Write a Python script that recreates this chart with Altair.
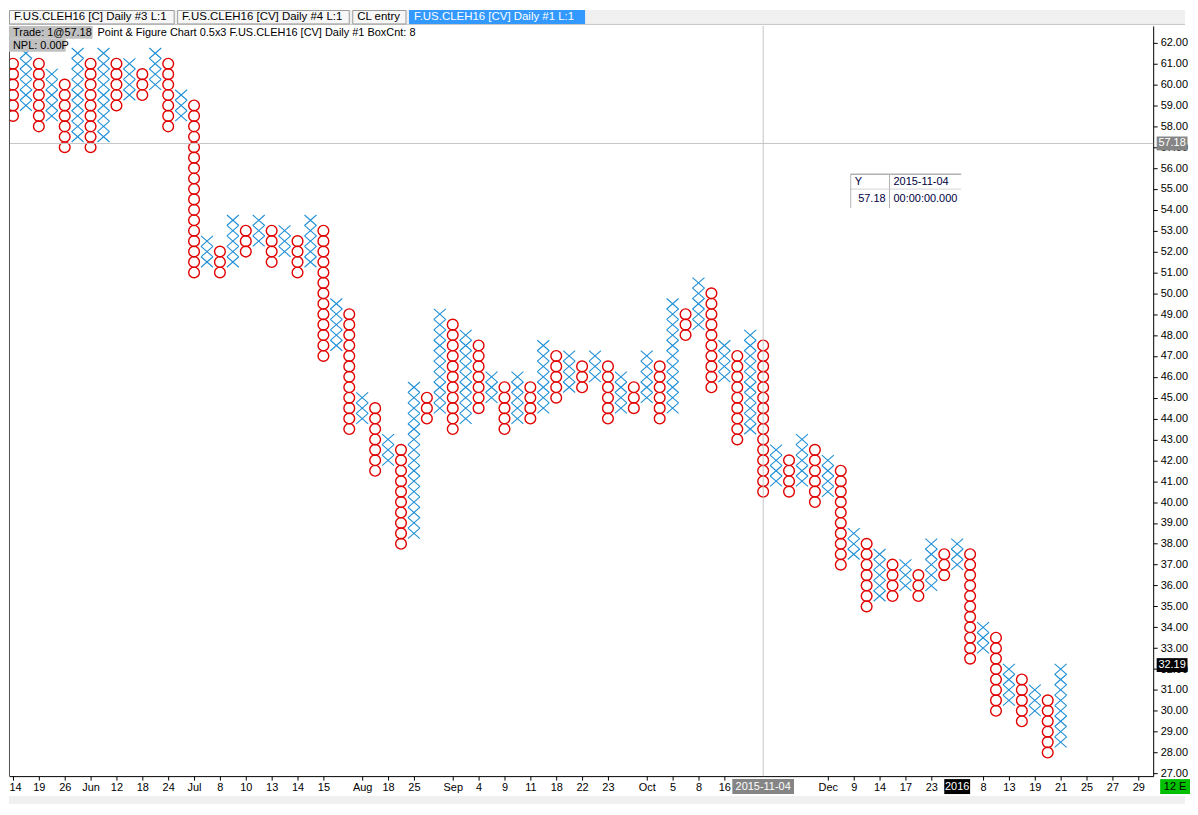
import json
import pandas as pd
import altair as alt

FONT = "Liberation Sans"

# ---- Point & Figure columns (0.5 box, 3 reversal) ----
col_kind = ["O", "X"] * 41
col_low = [58.5, 59.0, 58.0, 58.5, 57.0, 57.5, 57.0, 57.5, 59.0, 59.5,
           59.5, 60.0, 58.0, 58.5, 51.0, 51.5, 51.0, 51.5, 52.0, 52.5,
           51.5, 52.0, 51.0, 51.5, 47.0, 47.5, 43.5, 44.0, 41.5, 42.0,
           38.0, 38.5, 44.0, 44.5, 43.5, 44.0, 44.5, 45.0, 43.5, 44.0,
           44.0, 44.5, 45.0, 45.5, 45.5, 46.0, 44.0, 44.5, 44.5, 45.0,
           44.0, 44.5, 48.0, 48.5, 45.5, 46.0, 43.0, 43.5, 40.5, 41.0,
           40.5, 41.0, 40.0, 40.5, 37.0, 37.5, 35.0, 35.5, 35.5, 36.0,
           35.5, 36.0, 36.5, 37.0, 32.5, 33.0, 30.0, 30.5, 29.5, 30.0,
           28.0, 28.5]
col_high = [61.0, 61.5, 61.0, 60.5, 60.0, 61.5, 61.0, 61.5, 61.0, 61.0,
            60.5, 61.5, 61.0, 59.5, 59.0, 52.5, 52.0, 53.5, 53.0, 53.5,
            53.0, 53.0, 52.5, 53.5, 53.0, 49.5, 49.0, 45.0, 44.5, 43.0,
            42.5, 45.5, 45.0, 49.0, 48.5, 48.0, 47.5, 46.0, 45.5, 46.0,
            45.5, 47.5, 47.0, 47.0, 46.5, 47.0, 46.5, 46.0, 45.5, 47.0,
            46.5, 49.5, 49.0, 50.5, 50.0, 47.5, 47.0, 48.0, 47.5, 42.5,
            42.0, 43.0, 42.5, 42.0, 41.5, 38.5, 38.0, 37.5, 37.0, 37.0,
            36.5, 38.0, 37.5, 38.0, 37.5, 34.0, 33.5, 32.0, 31.5, 31.0,
            30.5, 32.0]

tick_cols = [0, 2, 4, 6, 8, 10, 12, 14, 16, 18, 20, 22, 24, 27, 29, 31, 34, 36, 38, 40,
             42, 44, 46, 49, 51, 53, 55, 63, 65, 67, 69, 71, 75, 77, 79, 81, 83, 85, 87]
tick_labels = ["14", "19", "26", "Jun", "12", "18", "24", "Jul", "8", "10",
               "13", "14", "15", "Aug", "18", "25", "Sep", "4", "9", "11",
               "18", "22", "23", "Oct", "5", "8", "16", "Dec", "9", "14",
               "17", "23", "8", "13", "19", "21", "25", "27", "29"]
price_ticks = list(range(27, 63))

cursor_col = [58]
cursor_date = ["2015-11-04"]
cursor_price = [57.18]
year_col = [73]
year_label = ["2016"]
last_price = [32.19]

assert len(col_kind) == len(col_low) == len(col_high)

cols_df = pd.DataFrame({"col": list(range(len(col_kind))), "kind": col_kind,
                        "low": col_low, "high": col_high})

W, H = 1150, 754
xscale = alt.Scale(domain=[-0.3077, 88.154], nice=False, zero=False)
yscale = alt.Scale(domain=[26.87, 62.81], nice=False, zero=False)

lab = [""] * 89
for c, t in zip(tick_cols, tick_labels):
    lab[c] = t
label_expr = json.dumps(lab) + "[round(datum.value)]"

x_axis = alt.Axis(values=tick_cols, labelExpr=label_expr, labelOverlap=False,
                  labelFlush=6, labelFlushOffset=4, tickSize=4, labelPadding=1,
                  grid=False, domainColor="black", tickColor="black", title=None)
y_axis = alt.Axis(orient="right", values=price_ticks, format=".2f", labelOverlap=False,
                  tickSize=4, labelPadding=3, grid=False, domainColor="black",
                  tickColor="black", labelFlush=False, title=None)


def X(field):
    return alt.X(field, scale=xscale, axis=x_axis, title=None)


def Y(field):
    return alt.Y(field, scale=yscale, axis=y_axis, title=None)


boxes = (alt.Chart(cols_df)
         .transform_calculate(box="sequence(datum.low, datum.high + 0.25, 0.5)")
         .transform_flatten(["box"]))

XPATH = "M-1,-0.88L1,0.88M-1,0.88L1,-0.88"

o_layer = boxes.transform_filter("datum.kind == 'O'").mark_point(
    shape="circle", size=116, filled=False, color="#e00000", strokeWidth=1.4,
    opacity=1, clip=True
).encode(x=X("col:Q"), y=Y("box:Q"))

x_layer = boxes.transform_filter("datum.kind == 'X'").mark_point(
    shape=XPATH, size=144, filled=False, color="#1e8fd6", strokeWidth=1.1,
    opacity=1, clip=True
).encode(x=X("col:Q"), y=Y("box:Q"))

one = pd.DataFrame({"a": [0]})


def txt(text, x, y, size=11, color="black", align="left", font=FONT):
    return alt.Chart(pd.DataFrame({"t": [text]})).mark_text(
        align=align, baseline="middle", fontSize=size, color=color, font=font
    ).encode(text="t:N", x=alt.value(x), y=alt.value(y))


def rect(x, x2, y, y2, fill, stroke=None):
    kw = dict(fill=fill)
    if stroke:
        kw.update(stroke=stroke, strokeWidth=1)
    return alt.Chart(one).mark_rect(**kw).encode(
        x=alt.value(x), x2=alt.value(x2), y=alt.value(y), y2=alt.value(y2))


def line(x, x2, y, y2, color):
    return alt.Chart(one).mark_rule(color=color, strokeWidth=1).encode(
        x=alt.value(x), x2=alt.value(x2), y=alt.value(y), y2=alt.value(y2))


layers = []

# boxes first so their axes define the chart's axes
layers.append(o_layer)
layers.append(x_layer)

# crosshair
layers.append(alt.Chart(pd.DataFrame({"price": cursor_price})).mark_rule(
    color="#c4c4c4", strokeWidth=1).encode(y=Y("price:Q")))
layers.append(alt.Chart(pd.DataFrame({"col": cursor_col})).mark_rule(
    color="#c4c4c4", strokeWidth=1).encode(x=X("col:Q")))

# tab strip
layers.append(rect(0, 1182, -16, -1, "#f0f0f0"))
layers.append(line(0, 1182, -1.5, -1.5, "#c8c8c8"))
tabs = [(0, 166, "F.US.CLEH16 [C]  Daily  #3  L:1", False),
        (169, 342, "F.US.CLEH16 [CV]  Daily  #4  L:1", False),
        (345, 399, "CL entry", False),
        (402, 579, "F.US.CLEH16 [CV]  Daily  #1  L:1", True)]
for a, b, t, active in tabs:
    if active:
        layers.append(rect(a, b, -16, -2, "#3399ff"))
        layers.append(txt(t, a + 5, -9, size=11.5, color="white"))
    else:
        layers.append(rect(a + 0.5, b, -15.5, -2, "#f7f7f7", stroke="#9a9a9a"))
        layers.append(txt(t, a + 5, -9, size=11.5, color="black"))

# left border
layers.append(line(0.5, 0.5, 0, H, "#505050"))

# right-side price tags
RPATH = "M-1,-0.45L1,-0.45L1,0.45L-1,0.45Z"
for vals, bg in [(cursor_price, "#858585"), (last_price, "#000000")]:
    d = pd.DataFrame({"price": vals})
    layers.append(alt.Chart(d).mark_point(shape=RPATH, size=961, filled=True, color=bg, opacity=1)
                  .encode(x=alt.value(W + 19), y=Y("price:Q")))
    layers.append(alt.Chart(d).mark_text(fontSize=11, font=FONT, color="white", align="center",
                                         baseline="middle")
                  .encode(x=alt.value(W + 19), y=Y("price:Q"),
                          text=alt.Text("price:Q", format=".2f")))

# highlighted x-axis labels
for cols, labels, bg, path, size in [
        (cursor_col, cursor_date, "#858585", "M-1,-0.242L1,-0.242L1,0.242L-1,0.242Z", 3844),
        (year_col, year_label, "#000000", "M-1,-0.577L1,-0.577L1,0.577L-1,0.577Z", 676)]:
    d = pd.DataFrame({"col": cols, "lab": labels})
    layers.append(alt.Chart(d).mark_point(shape=path, size=size, filled=True, color=bg, opacity=1)
                  .encode(x=X("col:Q"), y=alt.value(H + 10.5)))
    layers.append(alt.Chart(d).mark_text(fontSize=11, font=FONT, color="white", baseline="middle")
                  .encode(x=X("col:Q"), y=alt.value(H + 10.5), text="lab:N"))

# "12 E" box
layers.append(rect(1157, 1187, H + 3, H + 18, "#00c000"))
layers.append(txt("12 E", 1172, H + 10.5, color="black", align="center"))

# bottom scrollbar strip
layers.append(rect(0, 1182, H + 20, H + 28, "#f0f0f0"))

# info overlay
layers.append(rect(0, 84, 0, 13, "#c0c0c0"))
layers.append(txt("Trade: 1@57.18", 4, 7))
layers.append(txt("Point & Figure Chart 0.5x3 F.US.CLEH16 [CV]  Daily  #1 BoxCnt: 8", 89, 7))
layers.append(rect(0, 57, 13, 26, "#c0c0c0"))
layers.append(txt("NPL: 0.00P", 4, 20))

# cursor data table
layers.append(rect(846, 957, 149, 183, "white"))
layers.append(line(846, 957, 149, 149, "#8a8a8a"))
layers.append(line(846, 957, 164, 164, "#d4d4d4"))
layers.append(line(846, 846, 149, 183, "#b4b4b4"))
layers.append(line(885, 885, 149, 183, "#b4b4b4"))
layers.append(txt("Y", 850, 157, color="#000040"))
layers.append(txt("2015-11-04", 889, 157, color="#000040"))
layers.append(txt("57.18", 881, 174, color="#000040", align="right"))
layers.append(txt("00:00:00.000", 889, 174, color="#000040"))

chart = alt.layer(*layers).properties(
    width=W, height=H, padding=0, background="white"
).configure_view(stroke=None).configure_axis(
    labelFont=FONT, labelFontSize=11, labelColor="black", grid=False
)

chart.save("out.html", embed_options={"renderer": "svg", "actions": False})
